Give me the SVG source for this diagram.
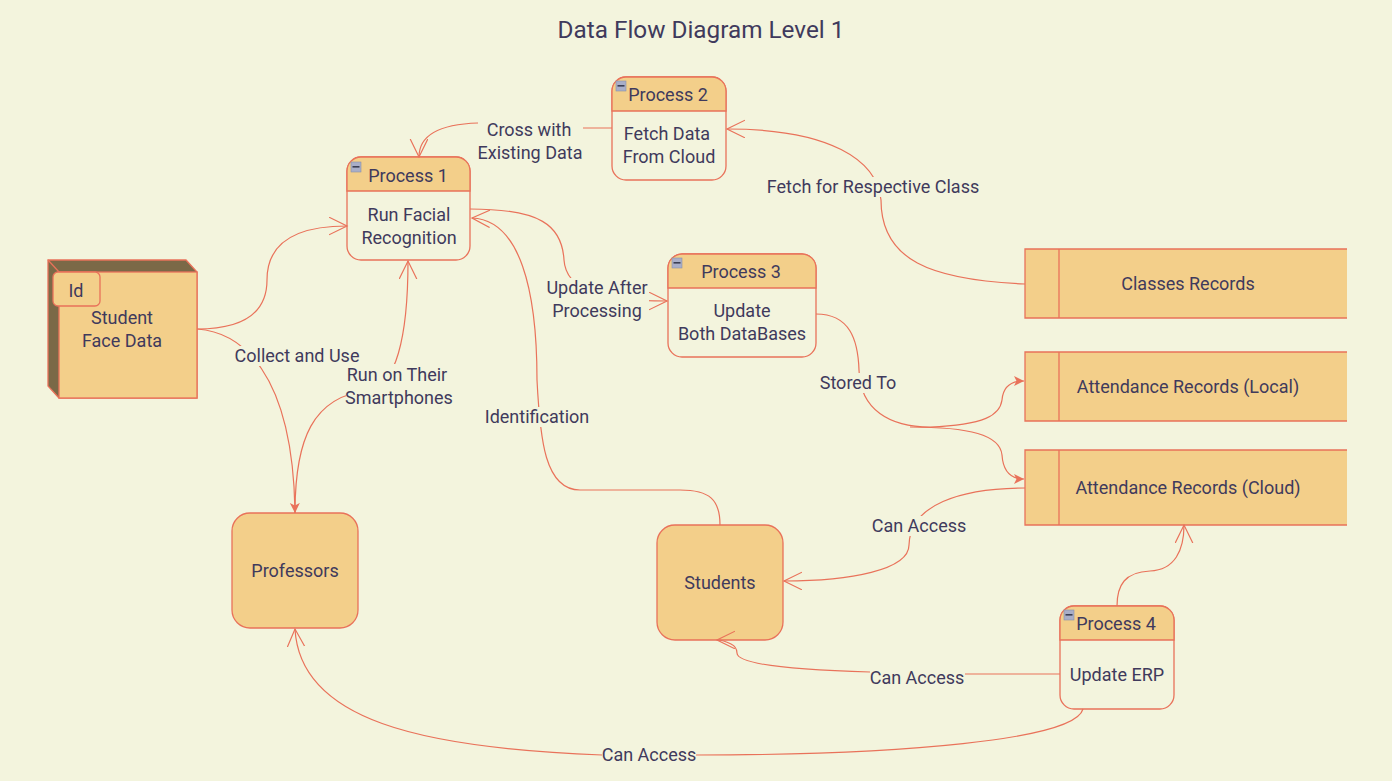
<svg xmlns="http://www.w3.org/2000/svg" width="1392" height="781" viewBox="0 0 1392 781">
<style>
text{font-family:"Roboto","Noto Sans",sans-serif;font-size:18px;fill:#3f3a5c;text-anchor:middle;dominant-baseline:central;transform:translateY(-0.8px)}
.title{font-size:24.3px}
.n{fill:#f3cf8a;stroke:#e9725a;stroke-width:1.3}
.b{fill:#f3f4dd;stroke:#e9725a;stroke-width:1.3}
.d{fill:#7b6947;stroke:#e9725a;stroke-width:1.3}
.l{stroke:#e9725a;stroke-width:1.3;fill:none}
.c path{stroke:#e9725a;stroke-width:1.2;fill:none}
.c .o{marker-end:url(#open)}
.c .f{marker-end:url(#fill)}
.bg{fill:#f3f4dd;stroke:none}
</style>
<defs>
<marker id="open" markerUnits="userSpaceOnUse" markerWidth="20" markerHeight="20" refX="18" refY="9" orient="auto" viewBox="0 0 20 20"><path d="M0,0.2 L18,9 L0,17.8" fill="none" stroke="#e9725a" stroke-width="1.2"/></marker>
<marker id="fill" markerUnits="userSpaceOnUse" markerWidth="12" markerHeight="12" refX="10" refY="5" orient="auto" viewBox="0 0 12 12"><path d="M0,0 L10,5 L0,10 L2.5,5 z" fill="#e9725a"/></marker>
<g id="minus"><rect x="0" y="0" width="10" height="10" fill="#a9aec8" stroke="#8a8fa8" stroke-width="0.6"/><rect x="1.5" y="4" width="7" height="1.6" fill="#3c3f55"/></g>
</defs>
<rect width="1392" height="781" fill="#f3f4dd"/>
<text class="title" x="701" y="30">Data Flow Diagram Level 1</text>
<g id="student">
<path class="d" d="M48,260 L186,260 L197,272 L197,398 L59,398 L48,386 z"/>
<path class="l" d="M48,260 L59,272"/>
<rect class="n" x="59" y="272" width="138" height="126"/>
<rect class="n" x="53" y="272" width="47" height="34" rx="5"/>
<text x="76" y="291">Id</text>
<text x="122" y="318">Student</text><text x="122" y="341">Face Data</text>
</g>
<g id="process1">
<rect class="b" x="347" y="157" width="123" height="103" rx="14"/>
<path class="n" d="M347,191 L347,171 A14,14 0 0 1 361,157 L456,157 A14,14 0 0 1 470,171 L470,191 z"/>
<use href="#minus" x="351" y="162"/>
<text x="408" y="176">Process 1</text>
<text x="409" y="215">Run Facial</text><text x="409" y="238">Recognition</text>
</g>
<g id="process2">
<rect class="b" x="612" y="77" width="114" height="103" rx="14"/>
<path class="n" d="M612,111 L612,91 A14,14 0 0 1 626,77 L712,77 A14,14 0 0 1 726,91 L726,111 z"/>
<use href="#minus" x="616" y="81"/>
<text x="668" y="95">Process 2</text>
<text x="667" y="134">Fetch Data</text><text x="669" y="157">From Cloud</text>
</g>
<g id="process3">
<rect class="b" x="668" y="254" width="148" height="103" rx="14"/>
<path class="n" d="M668,288 L668,268 A14,14 0 0 1 682,254 L802,254 A14,14 0 0 1 816,268 L816,288 z"/>
<use href="#minus" x="672" y="258"/>
<text x="741" y="272">Process 3</text>
<text x="742" y="311">Update</text><text x="742" y="334">Both DataBases</text>
</g>
<g id="process4">
<rect class="b" x="1060" y="606" width="114" height="103" rx="14"/>
<path class="n" d="M1060,640 L1060,620 A14,14 0 0 1 1074,606 L1160,606 A14,14 0 0 1 1174,620 L1174,640 z"/>
<use href="#minus" x="1064" y="610"/>
<text x="1116" y="624">Process 4</text>
<text x="1117" y="675">Update ERP</text>
</g>
<g id="classes-records">
<path class="n" d="M1347,249 L1025,249 L1025,318 L1347,318"/><path class="l" d="M1059,249 V318"/>
<text x="1188" y="284">Classes Records</text>
</g>
<g id="attendance-local">
<path class="n" d="M1347,352 L1025,352 L1025,421 L1347,421"/><path class="l" d="M1059,352 V421"/>
<text x="1188" y="387">Attendance Records (Local)</text>
</g>
<g id="attendance-cloud">
<path class="n" d="M1347,450 L1025,450 L1025,525 L1347,525"/><path class="l" d="M1059,450 V525"/>
<text x="1188" y="488">Attendance Records (Cloud)</text>
</g>
<g id="professors">
<rect class="n" x="232" y="513" width="126" height="115" rx="18"/>
<text x="295" y="571">Professors</text>
</g>
<g id="students">
<rect class="n" x="657" y="525" width="126" height="115" rx="18"/>
<text x="720" y="583">Students</text>
</g>
<g id="connectors" class="c">
<path class="o" d="M197,329 C245,329 267,312 267,280 C267,245 292,226 347,226"/>
<path class="f" d="M197,329 C240,332 293,370 295,513"/>
<path class="o" d="M295,513 C295,440 312,396 370,390 C395,385 408,340 408,261"/>
<path class="o" d="M612,128 L583,128 M478,123 C445,124 419,132 419,157"/>
<path class="o" d="M1025,284 C930,280 881,260 881,200 C877,160 830,129 727,129"/>
<path class="o" d="M470,209 C540,209 562,225 564,260 C566,290 600,301 667,301"/>
<path class="o" d="M720,525 C720,500 710,490 680,490 L580,490 C545,490 540,440 537,380 C537,290 520,220 472,218"/>
<path class="f" d="M816,314 C850,314 858,340 859,370 C860,410 890,427 930,427 C985,425 1000,415 1002,400 C1003,388 1010,381 1024,381"/>
<path class="f" d="M910,427 C970,427 1000,435 1002,455 C1003,470 1010,479 1024,479"/>
<path class="o" d="M1025,488 C960,488 910,505 909,545 C909,570 850,581 784,581"/>
<path class="o" d="M1060,674 L965,674 M870,672 C800,670 737,665 737,653 C737,647 733,645 731,644 C727,642 722,640 717,640"/>
<path class="o" d="M1117,606 C1117,585 1125,572 1150,571 C1175,570 1184,550 1184,525"/>
<path class="o" d="M1083,709 C1075,740 900,755 696,755 L602,755 C420,748 300,720 295,629"/>
<rect class="bg" x="478" y="118" width="105" height="47"/>
<text x="529" y="130">Cross with</text><text x="530" y="153">Existing Data</text>
<rect class="bg" x="768" y="177" width="211" height="20"/>
<text x="873" y="187">Fetch for Respective Class</text>
<rect class="bg" x="546" y="278" width="103" height="44"/>
<text x="597" y="288">Update After</text><text x="597" y="311">Processing</text>
<rect class="bg" x="235" y="346" width="125" height="20"/>
<text x="297" y="356">Collect and Use</text>
<rect class="bg" x="346" y="364" width="108" height="45"/>
<text x="397" y="375">Run on Their</text><text x="399" y="398">Smartphones</text>
<rect class="bg" x="820" y="373" width="77" height="20"/>
<text x="858" y="383">Stored To</text>
<rect class="bg" x="485" y="407" width="105" height="20"/>
<text x="537" y="417">Identification</text>
<rect class="bg" x="872" y="516" width="95" height="20"/>
<text x="919" y="526">Can Access</text>
<rect class="bg" x="870" y="668" width="95" height="20"/>
<text x="917" y="678">Can Access</text>
<rect class="bg" x="602" y="745" width="94" height="20"/>
<text x="649" y="755">Can Access</text>
</g>
</svg>
